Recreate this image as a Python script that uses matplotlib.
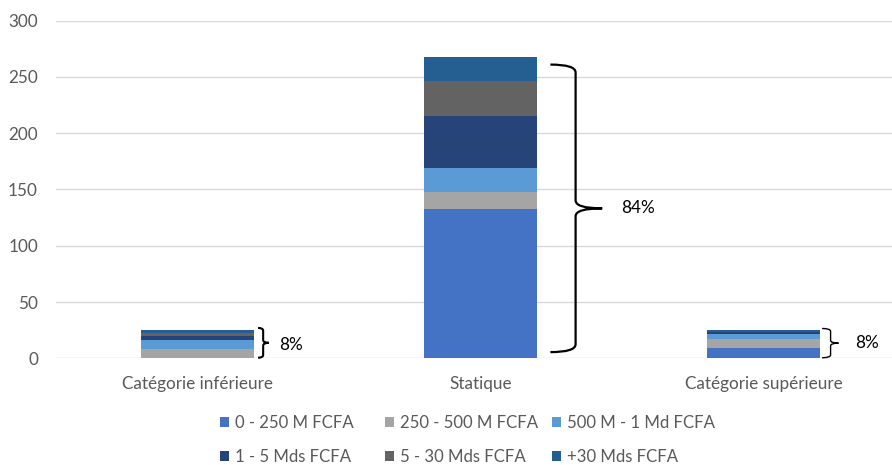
import matplotlib
matplotlib.use("Agg")
import matplotlib.pyplot as plt
from matplotlib.path import Path
from matplotlib.patches import PathPatch, Patch

categories = ["Catégorie inférieure", "Statique", "Catégorie supérieure"]
series_names = ["0 - 250 M FCFA", "250 - 500 M FCFA", "500 M - 1 Md FCFA",
                "1 - 5 Mds FCFA", "5 - 30 Mds FCFA", "+30 Mds FCFA"]
values = {
    "0 - 250 M FCFA":    [0.5, 133.0, 9.0],
    "250 - 500 M FCFA":  [8.0, 15.0, 8.0],
    "500 M - 1 Md FCFA": [7.5, 21.0, 4.5],
    "1 - 5 Mds FCFA":    [3.5, 46.5, 1.5],
    "5 - 30 Mds FCFA":   [3.0, 30.5, 0.5],
    "+30 Mds FCFA":      [3.0, 21.5, 1.5],
}
colors = ["#4472C4", "#A5A5A5", "#5B9BD5", "#264478", "#636363", "#255E91"]
shares = ["8%", "84%", "8%"]
yticks = [0, 50, 100, 150, 200, 250, 300]

plt.rcParams['font.family'] = ['Lato', 'DejaVu Sans']

fig = plt.figure(figsize=(8.92, 4.65), dpi=100)
ax = fig.add_axes([56/892, 1-358.3/465, (892-56)/892, (358.3-20.7)/465])

x = list(range(len(categories)))
bottom = [0.0] * len(categories)
for name, c in zip(series_names, colors):
    v = values[name]
    ax.bar(x, v, 0.4, bottom=bottom, color=c, label=name, zorder=3)
    bottom = [b + vi for b, vi in zip(bottom, v)]

ax.set_ylim(0, 300)
ax.set_xlim(-0.5, 2.454)
ax.set_yticks(yticks)
ax.set_xticks(x)
ax.set_xticklabels(categories)
ax.grid(axis='y', color='#D9D9D9', linewidth=1, zorder=0)
for s in ax.spines.values():
    s.set_visible(False)
ax.tick_params(axis='both', length=0, labelsize=12.3, colors='#595959')
ax.tick_params(axis='x', pad=13)
ax.tick_params(axis='y', pad=13)


def brace(ax, x0, xv, xt, y0, y1, r, lw):
    ym = (y0 + y1) / 2
    codes = [Path.MOVETO, Path.CURVE3, Path.CURVE3, Path.LINETO, Path.CURVE3, Path.CURVE3,
             Path.MOVETO, Path.CURVE3, Path.CURVE3, Path.LINETO, Path.CURVE3, Path.CURVE3]
    verts = [(x0, y1), (xv, y1), (xv, y1 - r), (xv, ym + r), (xv, ym), (xt, ym),
             (xt, ym), (xv, ym), (xv, ym - r), (xv, y0 + r), (xv, y0), (x0, y0)]
    ax.add_patch(PathPatch(Path(verts, codes), fill=False, edgecolor='black',
                           linewidth=lw, capstyle='butt', zorder=4, clip_on=False))
    return ym


# left brace
ym = brace(ax, 0 + 0.214, 0 + 0.232, 0 + 0.252, 0.5, 27.0, 2.5, 1.5)
ax.text(0 + 0.29, ym - 2, shares[0], ha='left', va='center', fontsize=12.3, color='#000000')
# middle brace
ym = brace(ax, 1 + 0.247, 1 + 0.336, 1 + 0.43, 5.5, 261.0, 7.0, 1.6)
ax.text(1 + 0.497, ym, shares[1], ha='left', va='center', fontsize=12.3, color='#000000')
# right brace
ym = brace(ax, 2 + 0.207, 2 + 0.237, 2 + 0.265, 0.5, 26.5, 2.5, 1.0)
ax.text(2 + 0.325, ym, shares[2], ha='left', va='center', fontsize=12.3, color='#000000')

handles = [Patch(facecolor=c, label=n) for n, c in zip(series_names, colors)]
col_x = [220, 385, 552]
for j, cx in enumerate(col_x):
    leg = fig.legend(handles=[handles[j], handles[j + 3]], ncol=1, loc='upper left',
                     bbox_to_anchor=(cx/892, 1-415/465), frameon=False, borderpad=0,
                     borderaxespad=0,
                     fontsize=12.1, labelcolor='#595959', handlelength=0.55, handleheight=0.55,
                     handletextpad=0.35, labelspacing=1.05)

fig.savefig("out.png", dpi=100)
